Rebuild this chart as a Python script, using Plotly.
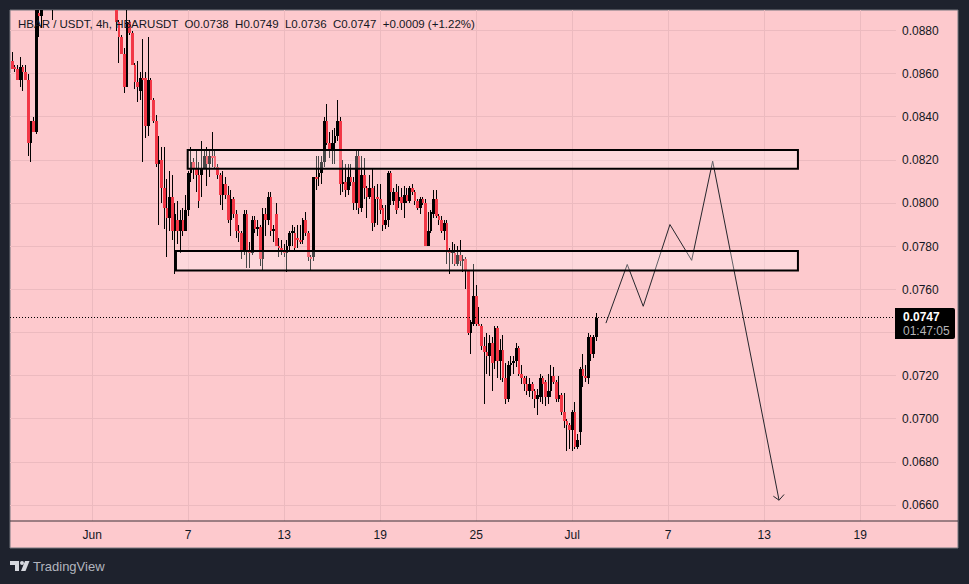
import pandas as pd
import plotly.graph_objects as go

# HBAR/USDT 4h candles; None marks bars that trade above the visible price window.
H12 = [None] * 3
H23 = [None] * 23

opens = [0.0866,0.0863,0.0862,0.0857,0.0863,0.0861,0.0857,0.0828,0.0838,0.0833,0.0888,0.0887] + H12 + [0.0895] + H23 + [
    0.0892,0.0884,0.0877,0.0869,0.0854,0.0884,0.0879,0.0864,0.0856,0.0852,0.0858,0.0858,0.0836,0.0857,0.0848,0.0838,0.0818,0.0820,0.0807,0.0798,
    0.0793,0.0803,0.0787,0.0792,0.0787,0.0792,0.0787,0.0797,0.0814,0.0819,0.0816,0.0813,0.0813,0.0816,0.0822,0.0818,0.0822,0.0822,0.0817,0.0813,
    0.0804,0.0809,0.0804,0.0792,0.0802,0.0795,0.0787,0.0786,0.0778,0.0795,0.0778,0.0777,0.0792,0.0788,0.0789,0.0774,0.0795,0.0792,0.0803,0.0787,
    0.0795,0.0780,0.0779,0.0778,0.0777,0.0780,0.0786,0.0786,0.0784,0.0783,0.0783,0.0792,0.0786,0.0775,0.0775,0.0812,0.0812,0.0814,0.0819,0.0838,
    0.0828,0.0825,0.0828,0.0831,0.0838,0.0809,0.0810,0.0806,0.0812,0.0810,0.0800,0.0822,0.0798,0.0813,0.0807,0.0803,0.0807,0.0791,0.0803,0.0802,
    0.0798,0.0790,0.0792,0.0814,0.0801,0.0805,0.0801,0.0803,0.0800,0.0804,0.0801,0.0807,0.0805,0.0801,0.0798,0.0802,0.0800,0.0780,0.0787,0.0795,
    0.0802,0.0794,0.0792,0.0787,0.0791,0.0778,0.0777,0.0777,0.0772,0.0776,0.0773,0.0774,0.0769,0.0740,0.0744,0.0757,0.0744,0.0743,0.0734,0.0731,
    0.0729,0.0735,0.0727,0.0742,0.0727,0.0732,0.0719,0.0709,0.0725,0.0726,0.0727,0.0733,0.0721,0.0719,0.0716,0.0713,0.0716,0.0713,0.0709,0.0710,
    0.0719,0.0717,0.0710,0.0713,0.0720,0.0717,0.0709,0.0711,0.0703,0.0699,0.0697,0.0695,0.0703,0.0687,0.0694,0.0723,0.0720,0.0719,0.0738,0.0730,
    0.0738]
highs = [0.0870,0.0864,0.0864,0.0868,0.0864,0.0864,0.0860,0.0838,0.0840,0.0895,0.0894,0.0895] + H12 + [0.0898] + H23 + [
    0.0896,0.0885,0.0878,0.0872,0.0891,0.0885,0.0880,0.0865,0.0866,0.0861,0.0876,0.0861,0.0877,0.0858,0.0849,0.0841,0.0831,0.0826,0.0826,0.0811,
    0.0815,0.0813,0.0800,0.0801,0.0797,0.0798,0.0804,0.0815,0.0826,0.0821,0.0825,0.0819,0.0829,0.0825,0.0826,0.0825,0.0833,0.0825,0.0818,0.0814,
    0.0815,0.0812,0.0808,0.0806,0.0803,0.0797,0.0790,0.0787,0.0797,0.0797,0.0782,0.0794,0.0794,0.0792,0.0790,0.0798,0.0798,0.0805,0.0805,0.0790,
    0.0800,0.0784,0.0783,0.0781,0.0783,0.0787,0.0790,0.0789,0.0790,0.0790,0.0793,0.0796,0.0787,0.0776,0.0812,0.0822,0.0822,0.0822,0.0840,0.0846,
    0.0833,0.0834,0.0835,0.0848,0.0840,0.0820,0.0818,0.0818,0.0818,0.0812,0.0824,0.0824,0.0822,0.0821,0.0808,0.0813,0.0816,0.0808,0.0809,0.0809,
    0.0799,0.0799,0.0815,0.0815,0.0807,0.0809,0.0808,0.0807,0.0808,0.0807,0.0808,0.0809,0.0806,0.0802,0.0803,0.0803,0.0802,0.0796,0.0797,0.0806,
    0.0806,0.0795,0.0794,0.0792,0.0792,0.0779,0.0782,0.0781,0.0780,0.0783,0.0776,0.0775,0.0769,0.0746,0.0772,0.0762,0.0752,0.0744,0.0738,0.0740,
    0.0739,0.0738,0.0743,0.0743,0.0737,0.0739,0.0726,0.0727,0.0729,0.0729,0.0735,0.0734,0.0725,0.0720,0.0720,0.0719,0.0717,0.0714,0.0714,0.0721,
    0.0720,0.0718,0.0721,0.0725,0.0724,0.0718,0.0720,0.0712,0.0712,0.0700,0.0698,0.0704,0.0708,0.0693,0.0724,0.0730,0.0725,0.0740,0.0739,0.0739,
    0.0749]
lows = [0.0862,0.0861,0.0857,0.0854,0.0852,0.0857,0.0822,0.0819,0.0833,0.0832,0.0877,0.0881] + H12 + [0.0885] + H23 + [
    0.0880,0.0865,0.0869,0.0851,0.0854,0.0878,0.0864,0.0853,0.0847,0.0848,0.0819,0.0830,0.0831,0.0848,0.0837,0.0817,0.0790,0.0800,0.0788,0.0775,
    0.0787,0.0783,0.0767,0.0781,0.0777,0.0785,0.0787,0.0794,0.0810,0.0811,0.0805,0.0798,0.0803,0.0816,0.0808,0.0812,0.0817,0.0816,0.0811,0.0799,
    0.0797,0.0802,0.0791,0.0785,0.0793,0.0784,0.0782,0.0774,0.0776,0.0770,0.0770,0.0776,0.0786,0.0785,0.0771,0.0769,0.0785,0.0790,0.0785,0.0782,
    0.0780,0.0775,0.0776,0.0775,0.0768,0.0778,0.0780,0.0778,0.0779,0.0781,0.0781,0.0785,0.0773,0.0769,0.0773,0.0806,0.0808,0.0809,0.0817,0.0827,
    0.0821,0.0818,0.0818,0.0829,0.0804,0.0805,0.0803,0.0804,0.0808,0.0797,0.0797,0.0795,0.0796,0.0802,0.0793,0.0802,0.0787,0.0789,0.0790,0.0795,
    0.0787,0.0788,0.0789,0.0799,0.0799,0.0795,0.0798,0.0797,0.0793,0.0800,0.0800,0.0804,0.0799,0.0797,0.0795,0.0799,0.0780,0.0780,0.0786,0.0793,
    0.0793,0.0790,0.0786,0.0783,0.0772,0.0767,0.0772,0.0771,0.0771,0.0771,0.0768,0.0760,0.0739,0.0730,0.0743,0.0743,0.0743,0.0732,0.0707,0.0721,
    0.0720,0.0713,0.0723,0.0719,0.0718,0.0717,0.0707,0.0708,0.0720,0.0721,0.0724,0.0720,0.0716,0.0713,0.0711,0.0710,0.0709,0.0705,0.0702,0.0708,
    0.0707,0.0706,0.0707,0.0710,0.0716,0.0708,0.0708,0.0702,0.0696,0.0685,0.0686,0.0685,0.0686,0.0686,0.0688,0.0715,0.0717,0.0716,0.0727,0.0728,
    0.0736]
closes = [0.0862,0.0862,0.0857,0.0863,0.0861,0.0857,0.0828,0.0838,0.0833,0.0893,0.0887,0.0892] + H12 + [0.0892] + H23 + [
    0.0884,0.0877,0.0869,0.0854,0.0884,0.0879,0.0864,0.0856,0.0854,0.0858,0.0857,0.0836,0.0857,0.0848,0.0838,0.0818,0.0820,0.0807,0.0798,0.0793,
    0.0803,0.0787,0.0795,0.0787,0.0792,0.0787,0.0797,0.0814,0.0819,0.0816,0.0813,0.0801,0.0816,0.0822,0.0818,0.0822,0.0821,0.0817,0.0813,0.0804,
    0.0809,0.0804,0.0792,0.0802,0.0795,0.0787,0.0786,0.0778,0.0795,0.0778,0.0777,0.0792,0.0788,0.0789,0.0774,0.0795,0.0792,0.0803,0.0787,0.0788,
    0.0780,0.0779,0.0778,0.0777,0.0780,0.0786,0.0787,0.0779,0.0783,0.0782,0.0792,0.0786,0.0775,0.0774,0.0812,0.0811,0.0814,0.0819,0.0838,0.0828,
    0.0825,0.0828,0.0831,0.0838,0.0809,0.0810,0.0806,0.0812,0.0810,0.0800,0.0822,0.0798,0.0813,0.0807,0.0803,0.0807,0.0791,0.0802,0.0802,0.0797,
    0.0790,0.0792,0.0814,0.0805,0.0805,0.0797,0.0803,0.0800,0.0804,0.0801,0.0807,0.0805,0.0801,0.0798,0.0802,0.0800,0.0780,0.0787,0.0796,0.0802,
    0.0794,0.0792,0.0787,0.0791,0.0778,0.0777,0.0778,0.0772,0.0776,0.0773,0.0774,0.0769,0.0740,0.0745,0.0757,0.0744,0.0743,0.0734,0.0731,0.0729,
    0.0735,0.0726,0.0742,0.0727,0.0732,0.0719,0.0709,0.0725,0.0726,0.0727,0.0733,0.0721,0.0719,0.0716,0.0713,0.0716,0.0713,0.0709,0.0711,0.0719,
    0.0716,0.0710,0.0713,0.0720,0.0717,0.0709,0.0711,0.0703,0.0699,0.0697,0.0695,0.0703,0.0687,0.0690,0.0723,0.0720,0.0719,0.0738,0.0730,0.0738,
    0.0747]

bar_times = pd.date_range("2024-05-27 00:00", periods=len(opens), freq="4h")

# Support and resistance zones: (left, right, bottom price, top price)
zone_upper = ("2024-06-06 23:15", "2024-07-15 02:40", 0.0816, 0.08247)
zone_lower = ("2024-06-06 05:40", "2024-07-15 02:40", 0.07688, 0.07778)

# Hand-drawn projection path
path_times = ["2024-07-03 02:40", "2024-07-04 10:36", "2024-07-05 10:36", "2024-07-07 02:40",
              "2024-07-08 11:15", "2024-07-09 18:45", "2024-07-13 22:20"]
path_prices = [0.07444, 0.07716, 0.07522, 0.07901, 0.07735, 0.08195, 0.06623]

price_ticks = [0.0660, 0.0680, 0.0700, 0.0720, 0.0740, 0.0760, 0.0780, 0.0800, 0.0820, 0.0840, 0.0860, 0.0880]
date_ticks = ["2024-06-01", "2024-06-07", "2024-06-13", "2024-06-19", "2024-06-25",
              "2024-07-01", "2024-07-07", "2024-07-13", "2024-07-19"]
date_labels = ["Jun", "7", "13", "19", "25", "Jul", "7", "13", "19"]

last_price = closes[-1]
legend_text = "HBAR / USDT, 4h, HBARUSDT  O0.0738  H0.0749  L0.0736  C0.0747  +0.0009 (+1.22%)"

PANE = "#fdc9cd"
DARK = "#1e222d"
GRID = "#ecbabf"
# A hair under full opacity makes plotly round bar edges instead of widening thin bars.
RED = "rgba(242,54,69,0.996)"
BLACK = "rgba(0,0,0,0.996)"
INK = "#131722"
FONT = "Liberation Sans, Arial, sans-serif"

WIDTH, HEIGHT = 969, 584
L, R, T, B = 10, 896, 10, 521
HOUR_MS = 3600000


def px(x):
    return (x - L) / (R - L)


def py(y):
    return 1 - (y - T) / (B - T)


fig = go.Figure()

# Wicks go first so the bodies sit on top of them.
visible = [i for i, o in enumerate(opens) if o is not None]
fig.add_trace(go.Bar(
    x=[bar_times[i] for i in visible],
    base=[lows[i] for i in visible],
    y=[highs[i] - lows[i] for i in visible],
    width=1.5 * HOUR_MS,
    marker=dict(color=BLACK, line=dict(width=0)),
    hoverinfo="skip", showlegend=False, name="wicks",
))
for side, colour in (("up", BLACK), ("down", RED)):
    idx = [i for i in visible if (closes[i] >= opens[i]) == (side == "up")]
    fig.add_trace(go.Bar(
        x=[bar_times[i] for i in idx],
        base=[min(opens[i], closes[i]) for i in idx],
        y=[abs(closes[i] - opens[i]) for i in idx],
        width=4.0 * HOUR_MS,
        marker=dict(color=colour, line=dict(width=0)),
        hoverinfo="skip", showlegend=False, name=side,
    ))

fig.add_trace(go.Scatter(
    x=path_times, y=path_prices, mode="lines",
    line=dict(color="#26262c", width=1),
    hoverinfo="skip", showlegend=False, name="projection",
))

shapes = [
    # chart pane behind everything, including both axis strips
    dict(type="rect", xref="paper", yref="paper", layer="below",
         x0=px(10), x1=px(958), y0=py(548), y1=py(10),
         fillcolor=PANE, line=dict(color="#74767e", width=1)),
    # time axis separator
    dict(type="line", xref="paper", yref="paper", layer="above",
         x0=px(10), x1=px(958), y0=py(521), y1=py(521),
         line=dict(color="#3d3238", width=1)),
    # last price line
    dict(type="line", xref="paper", yref="y", layer="above",
         x0=0, x1=1, y0=last_price, y1=last_price,
         line=dict(color="#000000", width=1, dash="1px,2px")),
    # open chevron closing the projection path
    dict(type="path", xref="x", yref="y", layer="above",
         xsizemode="pixel", ysizemode="pixel",
         xanchor=path_times[-1], yanchor=path_prices[-1],
         path="M-5.7,4 L0,0 L5,5.7", line=dict(color="#26262c", width=1)),
    # last price tag, squared on the axis side and rounded on the outer side
    dict(type="path", xref="paper", yref="paper", layer="above",
         path=(f"M{px(895)},{py(308)} L{px(953)},{py(308)} Q{px(955)},{py(308)} {px(955)},{py(310)} "
               f"L{px(955)},{py(337)} Q{px(955)},{py(339)} {px(953)},{py(339)} L{px(895)},{py(339)} Z"),
         fillcolor="#000000", line=dict(width=0)),
]
for left, right, bottom, top in (zone_upper, zone_lower):
    shapes.append(dict(type="rect", xref="x", yref="y", layer="above",
                       x0=left, x1=right, y0=bottom, y1=top,
                       fillcolor="rgba(255,255,255,0.28)",
                       line=dict(color="#000000", width=2)))

# TradingView mark, built from three simple pieces
logo_t = (f"M{px(10)},{py(561)} L{px(19)},{py(561)} L{px(19)},{py(571)} L{px(15)},{py(571)} "
          f"L{px(15)},{py(565)} L{px(10)},{py(565)} Z")
logo_slash = (f"M{px(25)},{py(561)} L{px(29.5)},{py(561)} L{px(25.5)},{py(571)} L{px(21)},{py(571)} Z")
shapes += [
    dict(type="path", xref="paper", yref="paper", path=logo_t, fillcolor="#d6d8de", line=dict(width=0)),
    dict(type="path", xref="paper", yref="paper", path=logo_slash, fillcolor="#d6d8de", line=dict(width=0)),
    dict(type="circle", xref="paper", yref="paper", x0=px(20), x1=px(24), y0=py(565), y1=py(561),
         fillcolor="#d6d8de", line=dict(width=0)),
]

annotations = [
    dict(text=legend_text, xref="paper", yref="paper", x=px(16), y=py(24.5),
         xanchor="left", yanchor="middle", showarrow=False,
         font=dict(family=FONT, size=11.5, color=INK)),
    dict(text="<b>0.0747</b>", xref="paper", yref="paper", x=px(901), y=py(316.5),
         xanchor="left", yanchor="middle", showarrow=False,
         font=dict(family=FONT, size=12, color="#ffffff")),
    dict(text="01:47:05", xref="paper", yref="paper", x=px(901), y=py(330.5),
         xanchor="left", yanchor="middle", showarrow=False,
         font=dict(family=FONT, size=12, color="#b4b4b8")),
    dict(text="TradingView", xref="paper", yref="paper", x=px(31), y=py(566.5),
         xanchor="left", yanchor="middle", showarrow=False,
         font=dict(family=FONT, size=13, color="#b2b5be")),
]

fig.update_layout(
    width=WIDTH, height=HEIGHT, autosize=False,
    margin=dict(l=L, r=WIDTH - R, t=T, b=HEIGHT - B, pad=0),
    paper_bgcolor=DARK, plot_bgcolor=PANE,
    barmode="overlay", bargap=0,
    showlegend=False, shapes=shapes, annotations=annotations,
    xaxis=dict(
        type="date", range=["2024-05-26 20:42", "2024-07-21 05:46"],
        tickmode="array", tickvals=date_ticks, ticktext=date_labels,
        showgrid=True, gridcolor=GRID, gridwidth=1, zeroline=False,
        ticks="", ticklen=0, showline=False, ticklabelstandoff=5,
        tickfont=dict(family=FONT, size=12, color=INK), rangeslider=dict(visible=False),
    ),
    yaxis=dict(
        side="right", range=[0.06526493, 0.08895744],
        tickmode="array", tickvals=price_ticks,
        ticktext=[f"{p:.4f}" if p != 0.0740 else "" for p in price_ticks],
        showgrid=True, gridcolor=GRID, gridwidth=1, zeroline=False,
        ticks="", showline=False, ticklabelstandoff=5,
        tickfont=dict(family=FONT, size=12, color=INK),
    ),
)

fig.write_html("out.html", config=dict(displayModeBar=False))
